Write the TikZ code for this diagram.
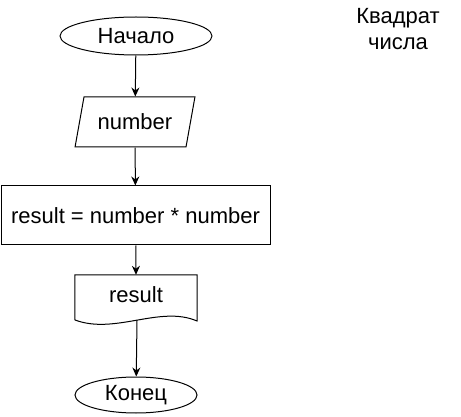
\documentclass[tikz,border=0pt]{standalone}
\usepackage{fontspec}
\setmainfont{Liberation Sans}
\usetikzlibrary{shapes.geometric,arrows.meta}
\begin{document}
\begin{tikzpicture}[
        x=1pt, y=-1pt,
        every node/.style={font=\fontsize{22}{26}\selectfont, inner sep=0pt},
        term/.style={draw, ellipse, line width=1pt},
        io_box/.style={draw, trapezium, trapezium left angle=68, trapezium right angle=112,
            trapezium stretches=true, line width=1pt, minimum width=120pt, minimum height=50pt},
        proc/.style={draw, rectangle, line width=1pt, minimum width=269pt, minimum height=59pt},
        doc_box/.style={rectangle, minimum width=122pt, minimum height=40pt},
        arr/.style={line width=1pt, -{Stealth[length=9pt,width=8pt]}}
        ]
    \useasboundingbox (0,0) rectangle (461,417);
    \node[term, minimum width=152pt, minimum height=38pt] (start) at (136,36) {Начало};
    \node[io_box] (input) at (135,122) {number};
    \node[proc] (calc) at (135.5,215.5) {result = number * number};
    \node[doc_box] (out) at (136,295) {result};
    \node[term, minimum width=122pt, minimum height=36pt] (end) at (136,395) {Конец};
    \node[align=center] (title) at (398,29) {Квадрат\\числа};
    % wavy bottom of the output block
    \draw[line width=1pt] (out.north west) -- (out.north east) -- (197,321)
        .. controls (160,305) and (115,335) .. (75,320) -- cycle;
    \coordinate (wave) at (137,320);
    \draw[arr] (start) -- (input);
    \draw[arr] (input) -- (calc);
    \draw[arr] (calc) -- (out.north);
    \draw[arr] (wave) -- (end);
\end{tikzpicture}
\end{document}
